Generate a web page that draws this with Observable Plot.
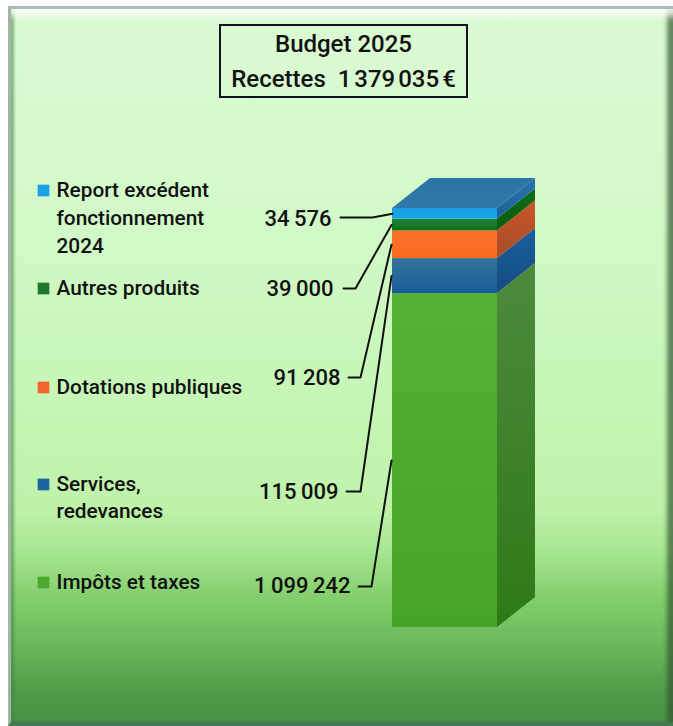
<!DOCTYPE html>
<html lang="fr">
<head>
<meta charset="utf-8">
<script src="https://cdn.jsdelivr.net/npm/d3@7"></script>
<script src="https://cdn.jsdelivr.net/npm/@observablehq/plot@0.6"></script>
<style>
  html, body { margin: 0; padding: 0; background: #fff; }
  #page { position: relative; width: 673px; height: 726px; overflow: hidden; font-family: Roboto, sans-serif; color: #111; }
  #panel {
    position: absolute; left: 8px; top: 6px; width: 665px; height: 720px; box-sizing: border-box;
    background: linear-gradient(180deg, #d9f9d0 0%, #dafad2 6%, #d2f9c8 30%, #c6f6b6 55%, #bef2a9 70%, #a8e692 76%, #86d070 82%, #6ab95b 89%, #4f9a47 96%, #4a9246 100%);
    border-top: 3px solid #aebbb2; border-left: 3px solid #a3b4a8; border-bottom: 4px solid #44794f;
    box-shadow: inset 0 14px 7px -7px rgba(255,255,255,.85), inset 4px 0 3px -1px rgba(70,130,70,.6), inset -8px 0 4px -2px rgba(50,85,50,.7);
  }
  #title {
    position: absolute; left: 219px; top: 24px; width: 249px; height: 74px; box-sizing: border-box;
    border: 2px solid #112; text-align: center; font-size: 24px; font-weight: 500; line-height: 35px; padding-top: 1px; color: #111; white-space: nowrap;
  }
  #page svg { position: absolute; left: 0; top: 0; }
</style>
</head>
<body>
<div id="page"><div id="panel"></div><div id="title"></div></div>
<script>
// ---- data (bottom of the stack first)
const categories = ["Impôts et taxes", "Services, redevances", "Dotations publiques", "Autres produits", "Report excédent fonctionnement 2024"];
const values = [1099242, 115009, 91208, 39000, 34576];
const legendLines = [["Impôts et taxes"], ["Services,", "redevances"], ["Dotations publiques"], ["Autres produits"], ["Report excédent", "fonctionnement", "2024"]];
const titleLine = "Budget 2025";
const titlePrefix = "Recettes";
const total = 1379035;

// ---- styles
const swatch = ["#4fa82f", "#1d64a3", "#f2652a", "#1f7a2c", "#1aa0e4"];
const frontStops = [["#56b034", "#46a426"], ["#357299", "#175f9c"], ["#f9702c", "#f76d1d"], ["#24823a", "#0c6f16"], ["#1a9cdf", "#16a6ef"]];
const sideStops = [["#4e8a3e", "#2e7a17"], ["#1b5fa0", "#164c80"], ["#c9562a", "#a54d2a"], ["#0f6b16", "#0b5d0e"], ["#2874ad", "#1c609b"]];

// ---- layout (pixels)
const W = 673, H = 726;
const bar = {left: 392, right: 497, top: 208, bottom: 627, dx: 38, dy: 30};
const legendLayout = [{y: 582, dy: 0}, {y: 484, dy: 27}, {y: 387, dy: 0}, {y: 288, dy: 0}, {y: 190, dy: 28}];
const calloutLayout = [
  {labelRight: 350, y: 585, x0: 358, xb: 371, ly: 586},
  {labelRight: 338, y: 491, x0: 346, xb: 360, ly: 491},
  {labelRight: 340, y: 377, x0: 348, xb: 360, ly: 377},
  {labelRight: 333, y: 288, x0: 343, xb: 355, ly: 288},
  {labelRight: 331, y: 218, x0: 340, xb: 372, ly: 217}
];

const unitX = px => (px - bar.left) / (bar.right - bar.left);
const unitY = py => (bar.bottom - py) / (bar.bottom - bar.top) * total;
const depthX = bar.dx / (bar.right - bar.left);
const depthY = bar.dy / (bar.bottom - bar.top) * total;

const spaced = v => d3.format(",")(v).replace(/,/g, "\u2009");
document.getElementById("title").innerHTML = `${titleLine}<br>${titlePrefix}&nbsp; ${spaced(total)}\u2009€`;

const tops = d3.cumsum(values);
const rows = categories.map((name, i) => ({name, value: values[i], y1: i ? tops[i - 1] : 0, y2: tops[i], i}));

const sideFace = r => [
  {x: 1, y1: r.y1, y2: r.y2},
  {x: 1 + depthX, y1: r.y1 + depthY, y2: r.y2 + depthY}
];
const topFace = [
  {x: 0, y1: total, y2: total},
  {x: depthX, y1: total, y2: total + depthY},
  {x: 1, y1: total, y2: total + depthY},
  {x: 1 + depthX, y1: total + depthY, y2: total + depthY}
];

const defs = () => {
  const g = d3.create("svg:g");
  const d = g.append("defs");
  const grad = (id, [a, b]) => {
    const lg = d.append("linearGradient").attr("id", id).attr("x1", 0).attr("y1", 0).attr("x2", 0).attr("y2", 1);
    lg.append("stop").attr("offset", "0%").attr("stop-color", a);
    lg.append("stop").attr("offset", "100%").attr("stop-color", b);
  };
  frontStops.forEach((s, i) => grad("front" + i, s));
  sideStops.forEach((s, i) => grad("side" + i, s));
  grad("topFace", ["#2b75a6", "#2f78a8"]);
  return g.node();
};

const leaders = rows.map((r, i) => {
  const c = calloutLayout[i];
  return [
    {x: unitX(c.x0), y: unitY(c.ly), i},
    {x: unitX(c.xb), y: unitY(c.ly), i},
    {x: unitX(bar.left - (i === 4 ? 0 : 1)), y: (r.y1 + r.y2) / 2, i}
  ];
}).flat();

const legendRows = rows.flatMap((r, i) =>
  legendLines[i].map((text, k) => ({text, x: unitX(56), y: unitY(legendLayout[i].y + k * legendLayout[i].dy)}))
);

const chart = Plot.plot({
  width: W, height: H, margin: 0,
  style: {background: "transparent", fontFamily: "Roboto, sans-serif"},
  x: {domain: [0, 1], range: [bar.left, bar.right], axis: null},
  y: {domain: [0, total], range: [bar.bottom, bar.top], axis: null},
  marks: [
    defs,
    ...rows.map(r => Plot.area(sideFace(r), {x1: "x", y1: "y1", y2: "y2", fill: `url(#side${r.i})`})),
    Plot.area(topFace, {x1: "x", y1: "y1", y2: "y2", fill: "url(#topFace)"}),
    ...rows.map(r => Plot.rect([r], {x1: () => 0, x2: () => 1, y1: "y1", y2: "y2", fill: `url(#front${r.i})`})),
    Plot.line(leaders, {x: "x", y: "y", z: "i", stroke: "#111", strokeWidth: 2}),
    Plot.text(rows, {
      x: r => unitX(calloutLayout[r.i].labelRight), y: r => unitY(calloutLayout[r.i].y),
      text: r => spaced(r.value), textAnchor: "end", lineAnchor: "middle",
      fontSize: 22, fontWeight: 500, fill: "#111"
    }),
    Plot.dot(rows, {
      x: () => unitX(43), y: r => unitY(legendLayout[r.i].y),
      symbol: "square", r: 6.6, fill: r => swatch[r.i]
    }),
    Plot.text(legendRows, {
      x: "x", y: "y", text: "text", textAnchor: "start", lineAnchor: "middle",
      fontSize: 20.8, fontWeight: 500, fill: "#111"
    })
  ]
});
document.getElementById("page").appendChild(chart);
</script>
</body>
</html>
